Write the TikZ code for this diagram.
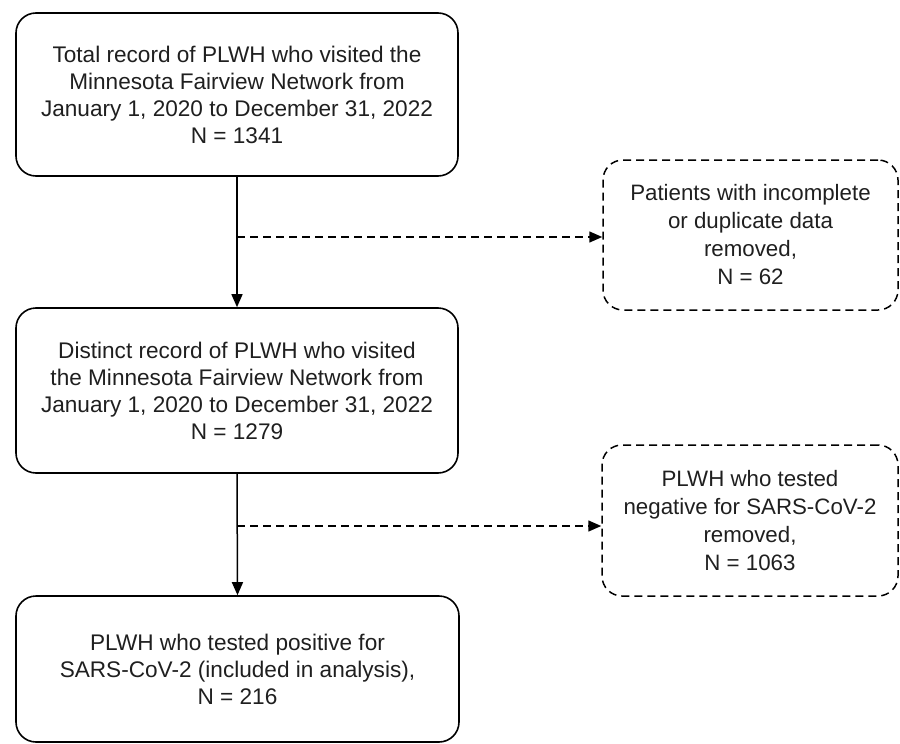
\documentclass[tikz,border=0pt]{standalone}
\usepackage{fontspec}
\setmainfont{Liberation Sans}
\usetikzlibrary{arrows.meta,calc}
\begin{document}
\begin{tikzpicture}[x=1pt,y=1pt,
  mainbox/.style={draw, line width=1.6pt, rounded corners=20pt, align=center,
    font=\fontsize{22.6}{27}\selectfont, text=black!88},
  dashbox/.style={mainbox, dash pattern=on 8pt off 5pt, line width=1.5pt,
    font=\fontsize{22.3}{28}\selectfont},
  flow/.style={line width=1.5pt, -{Triangle[length=13pt,width=11pt]}},
  dflow/.style={flow, dash pattern=on 8pt off 5pt}]
\useasboundingbox (0,0) rectangle (900,-744);
\node[mainbox, minimum width=442pt, minimum height=163pt] (b1) at (237,-94.5)
  {Total record of PLWH who visited the\\Minnesota Fairview Network from\\January 1, 2020 to December 31, 2022\\N = 1341};
\node[mainbox, minimum width=442pt, minimum height=165pt] (b2) at (237,-390.5)
  {Distinct record of PLWH who visited\\the Minnesota Fairview Network from\\January 1, 2020 to December 31, 2022\\N = 1279};
\node[mainbox, minimum width=443pt, minimum height=146pt] (b3) at (237.5,-669)
  {PLWH who tested positive for\\SARS-CoV-2 (included in analysis),\\N = 216};
\node[dashbox, minimum width=295pt, minimum height=150pt] (d1) at (750.5,-235)
  {Patients with incomplete\\or duplicate data\\removed,\\N = 62};
\node[dashbox, minimum width=296pt, minimum height=151pt] (d2) at (750,-520.5)
  {PLWH who tested\\negative for SARS-CoV-2\\removed,\\N = 1063};
\coordinate (j1) at (237,-237);
\coordinate (j2) at (237,-526);
\draw[flow] (b1.south) -- (b2.north);
\draw[flow] (b2.south) -- (b3.north);
\draw[dflow] (j1) -- (d1.west |- j1);
\draw[dflow] (j2) -- (d2.west |- j2);
\end{tikzpicture}
\end{document}
